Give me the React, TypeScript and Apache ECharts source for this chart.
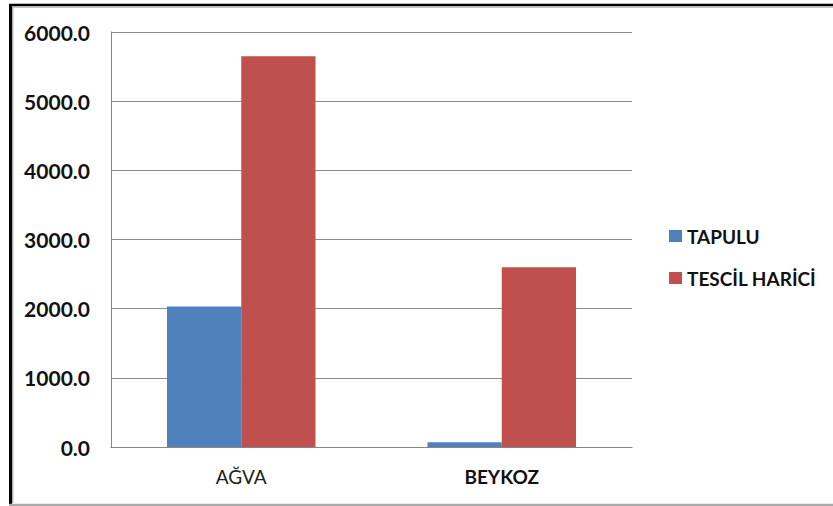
import React, { useEffect, useRef } from "react";
import * as echarts from "echarts";

const categories = ["AĞVA", "BEYKOZ"];
const seriesNames = ["TAPULU", "TESCİL HARİCİ"];
const tapulu = [2030, 70];
const tescilHarici = [5650, 2600];
const colors = ["#4F81BD", "#C0504D"];

export default function App() {
  const ref = useRef<HTMLDivElement>(null);
  useEffect(() => {
    document.body.style.margin = "0";
    const chart = echarts.init(ref.current!, null, { renderer: "svg" });
    chart.setOption({
      animation: false,
      backgroundColor: "#ffffff",
      grid: { left: 111, top: 32, right: 201, bottom: 59 },
      legend: {
        orient: "vertical",
        left: 669,
        top: 226,
        padding: 0,
        itemWidth: 13,
        itemHeight: 12,
        itemGap: 22,
        icon: "rect",
        textStyle: {
          fontFamily: "Lato",
          fontWeight: "bold",
          fontSize: 19,
          lineHeight: 20,
          color: "#111",
        },
        data: seriesNames,
      },
      xAxis: {
        type: "category",
        data: categories,
        axisLine: { lineStyle: { color: "#868686", width: 1 } },
        axisTick: { show: false },
        axisLabel: {
          margin: 20,
          fontFamily: "Lato",
          fontSize: 19,
          color: "#222",
          formatter: (v: string, i: number) => (i === 1 ? "{b|" + v + "}" : v),
          rich: {
            b: { fontFamily: "Lato", fontSize: 19, fontWeight: "bold", color: "#111" },
          },
        },
      },
      yAxis: {
        type: "value",
        min: 0,
        max: 6000,
        interval: 1000,
        axisLine: { show: true, lineStyle: { color: "#868686", width: 1 } },
        axisTick: { show: false },
        splitLine: { lineStyle: { color: "#8c8c8c", width: 1 } },
        axisLabel: {
          margin: 21,
          fontFamily: "Lato",
          fontWeight: "bold",
          fontSize: 21,
          color: "#111",
          formatter: (v: number) => v.toFixed(1),
        },
      },
      series: [
        {
          name: seriesNames[0],
          type: "bar",
          data: tapulu,
          itemStyle: { color: colors[0] },
          barGap: "0%",
          barCategoryGap: "43%",
        },
        {
          name: seriesNames[1],
          type: "bar",
          data: tescilHarici,
          itemStyle: { color: colors[1] },
          barGap: "0%",
          barCategoryGap: "43%",
        },
      ],
      graphic: [
        { type: "line", shape: { x1: 9, y1: 5, x2: 833, y2: 5 }, style: { stroke: "#000", lineWidth: 2.5 } },
        { type: "line", shape: { x1: 11, y1: 7, x2: 833, y2: 7 }, style: { stroke: "#b0b0b0", lineWidth: 1.5 } },
        { type: "line", shape: { x1: 10.5, y1: 4, x2: 10.5, y2: 506 }, style: { stroke: "#000", lineWidth: 3 } },
        { type: "line", shape: { x1: 12.7, y1: 6, x2: 12.7, y2: 503 }, style: { stroke: "#b0b0b0", lineWidth: 1.5 } },
        { type: "line", shape: { x1: 9, y1: 505, x2: 833, y2: 505 }, style: { stroke: "#aaaaaa", lineWidth: 2.5 } },
      ],
    });
    return () => chart.dispose();
  }, []);
  return <div ref={ref} style={{ width: 833, height: 506 }} />;
}
